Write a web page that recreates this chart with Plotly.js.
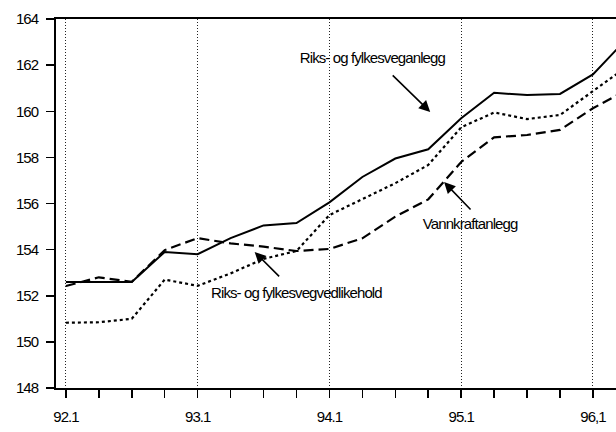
<!DOCTYPE html>
<html>
<head>
<meta charset="utf-8">
<script src="https://cdn.plot.ly/plotly-3.0.1.min.js"></script>
<style>
  html, body { margin: 0; padding: 0; background: #fff; }
  #chart { width: 616px; height: 432px; }
  #chart .xtick text, #chart .ytick text { letter-spacing: -1px; }
  #chart .annotation-text { letter-spacing: -0.9px; }
</style>
</head>
<body>
<div id="chart"></div>
<script>
// Quarters (92.1 ... 96.2)
const quarters = ["92.1","92.2","92.3","92.4","93.1","93.2","93.3","93.4","94.1","94.2","94.3","94.4","95.1","95.2","95.3","95.4","96.1","96.2"];
// Year tick labels as printed
const tickLabels = ["92.1","93.1","94.1","95.1","96,1"];
const tickQuarters = ["92.1","93.1","94.1","95.1","96.1"];

// Series values (index)
const veganlegg = [152.6, 152.6, 152.6, 153.9, 153.8, 154.5, 155.05, 155.15, 156.05, 157.15, 157.95, 158.35, 159.7, 160.8, 160.7, 160.75, 161.6, 163.1];
const vegvedlikehold = [150.83, 150.85, 151.0, 152.7, 152.43, 152.97, 153.6, 153.94, 155.5, 156.2, 156.88, 157.67, 159.3, 159.95, 159.66, 159.84, 160.85, 161.9];
const vannkraft = [152.42, 152.8, 152.6, 153.98, 154.5, 154.27, 154.13, 153.94, 154.03, 154.49, 155.43, 156.18, 157.8, 158.87, 158.97, 159.19, 160.13, 160.9];

const xIdx = quarters.map((q, i) => i);
const tickVals = tickQuarters.map(q => quarters.indexOf(q));

const FONT = "'Liberation Sans', Arial, sans-serif";

const traces = [
  { x: xIdx, y: veganlegg, mode: 'lines', line: { color: '#000', width: 2, dash: 'solid' }, name: 'Riks- og fylkesveganlegg' },
  { x: xIdx, y: vegvedlikehold, mode: 'lines', line: { color: '#000', width: 2.2, dash: '3px,3px' }, name: 'Riks- og fylkesvegvedlikehold' },
  { x: xIdx, y: vannkraft, mode: 'lines', line: { color: '#000', width: 2.2, dash: '10px,5px' }, name: 'Vannkraftanlegg' }
];

const arrowStyle = { showarrow: true, arrowhead: 2, arrowsize: 1.4, arrowwidth: 1.6, arrowcolor: '#000', text: ' ', xref: 'x', yref: 'y' };
const textStyle = { showarrow: false, xref: 'x', yref: 'y', font: { family: FONT, size: 15, color: '#000' } };

const layout = {
  width: 616, height: 432,
  margin: { l: 56, r: 0, t: 19, b: 44 },
  paper_bgcolor: '#fff', plot_bgcolor: '#fff',
  showlegend: false,
  font: { family: FONT, size: 15, color: '#000' },
  xaxis: {
    range: [-0.3, 16.7],
    tickmode: 'array', tickvals: tickVals, ticktext: tickLabels,
    ticks: 'outside', ticklen: 8, tickwidth: 1.5, tickcolor: '#000',
    ticklabelstandoff: 6,
    showline: true, linewidth: 2, linecolor: '#000', mirror: true,
    showgrid: true, gridcolor: '#222', gridwidth: 1, griddash: '1px,2px',
    zeroline: false,
    minor: { tickmode: 'linear', tick0: 0, dtick: 1, ticks: 'outside', ticklen: 8, tickwidth: 1.5, tickcolor: '#000', showgrid: false },
    tickfont: { family: FONT, size: 15, color: '#000' }
  },
  yaxis: {
    range: [148, 164], tickmode: 'linear', tick0: 148, dtick: 2,
    ticks: 'outside', ticklen: 8, tickwidth: 1.5, tickcolor: '#000',
    ticklabelstandoff: 5,
    showline: true, linewidth: 2, linecolor: '#000',
    showgrid: false, zeroline: false,
    tickfont: { family: FONT, size: 15, color: '#000' }
  },
  annotations: [
    Object.assign({}, arrowStyle, { x: 11.06, y: 159.97, ax: -41, ay: -40 }),
    Object.assign({}, arrowStyle, { x: 11.48, y: 156.93, ax: 30, ay: 31 }),
    Object.assign({}, arrowStyle, { x: 5.73, y: 153.9, ax: 28, ay: 28 }),
    Object.assign({}, textStyle, { x: 9.30, y: 162.31, text: 'Riks- og fylkesveganlegg' }),
    Object.assign({}, textStyle, { x: 12.27, y: 155.15, text: 'Vannkraftanlegg' }),
    Object.assign({}, textStyle, { x: 7.0, y: 152.16, text: 'Riks- og fylkesvegvedlikehold' })
  ]
};

Plotly.newPlot('chart', traces, layout, { displayModeBar: false, staticPlot: true });
</script>
</body>
</html>
